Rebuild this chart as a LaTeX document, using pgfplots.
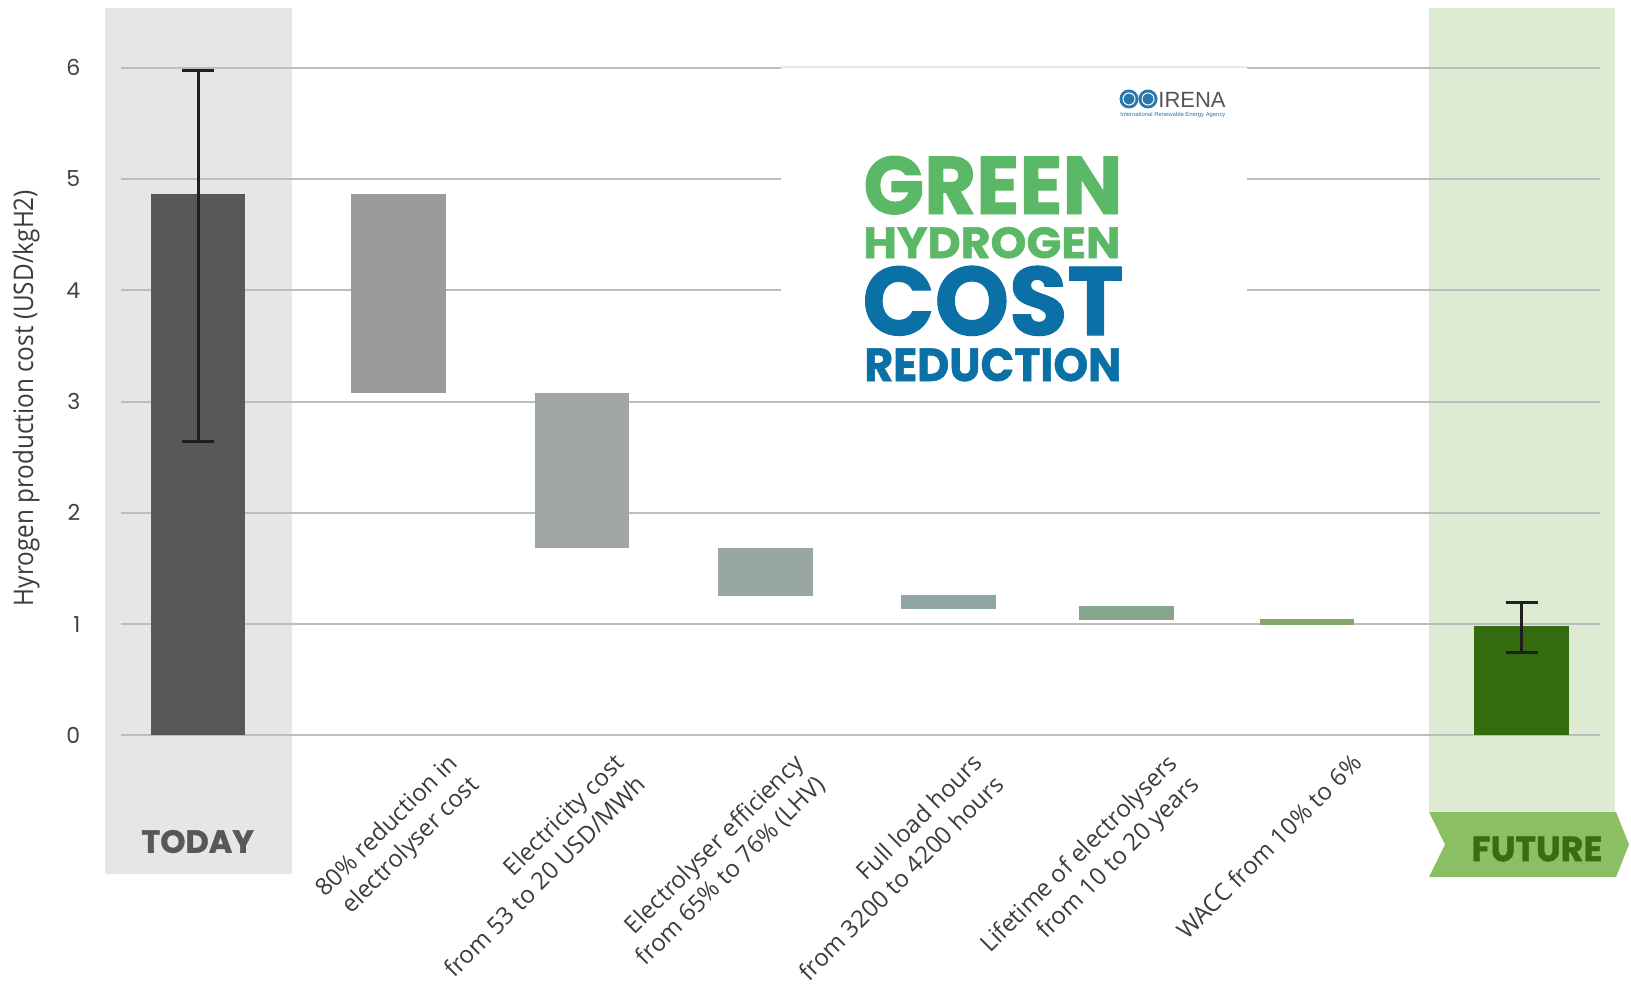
\documentclass[border=0pt]{standalone}
\usepackage{graphicx}
\usepackage{pgfplots}
\pgfplotsset{compat=1.18}
\usepackage{fontspec}
\setmainfont{Open Sans}
\newfontfamily\pop{Poppins}
\newfontfamily\popheavy{Poppins}[UprightFeatures={FakeBold=1.2}, BoldFeatures={FakeBold=1.2}]
\newfontfamily\cond{Open Sans}[FakeStretch=0.9]
\newfontfamily\lib{Liberation Sans}
\definecolor{gridc}{HTML}{BDBDBD}
\definecolor{todayband}{HTML}{E6E6E6}
\definecolor{futband}{HTML}{DCEBD1}
\definecolor{banner}{HTML}{8BBF63}
\definecolor{futtext}{HTML}{3D6B14}
\definecolor{todaytext}{HTML}{58585A}
\definecolor{todaybar}{HTML}{58585A}
\definecolor{cb2}{HTML}{9B9B9C}
\definecolor{cb3}{HTML}{A0A6A5}
\definecolor{cb4}{HTML}{98A7A3}
\definecolor{cb5}{HTML}{8EA6A6}
\definecolor{cb6}{HTML}{87A58A}
\definecolor{cb7}{HTML}{85A66A}
\definecolor{futbar}{HTML}{346B0E}
\definecolor{errc}{HTML}{1F1F1F}
\definecolor{tickc}{HTML}{3F3F4A}
\definecolor{labc}{HTML}{3C3C3C}
\definecolor{tgreen}{HTML}{5BB866}
\definecolor{tblue}{HTML}{0A70A6}
\definecolor{irenablue}{HTML}{2A77AD}
\definecolor{irenagray}{HTML}{555555}
\begin{document}
\begin{tikzpicture}
\useasboundingbox (0,0) rectangle (815.5pt,-492pt);
\begin{scope}[x=0.5pt,y=-0.5pt]
\fill[todayband] (105,8.3) rectangle (291.7,874);
\fill[futband] (1429,8.3) rectangle (1615,812);
\fill[banner] (1429,812) -- (1616,812) -- (1629,844.5) -- (1616,877) -- (1429,877) -- (1445,844.5) -- cycle;
\end{scope}
\begin{axis}[
  at={(60.35pt,-367.7pt)}, anchor=south west,
  scale only axis, width=739.65pt, height=363.55pt,
  xmin=-0.409, xmax=7.414, ymin=0, ymax=6.533,
  clip=false,
  axis line style={draw=none},
  major tick style={draw=none},
  ymajorgrids, grid style={gridc, line width=1pt},
  ytick={0,1,2,3,4,5,6},
  /pgf/number format/assume math mode=true,
  yticklabel style={font=\pop\fontsize{11}{13}\selectfont, text=tickc, inner sep=0pt, xshift=-20pt},
  xtick={1.11,1.994,2.94,3.887,4.918,5.891},
  xticklabels={{80\% reduction in\\electrolyser cost},{Electricity cost\\from 53 to 20 USD/MWh},{Electrolyser efficiency\\from 65\% to 76\% (LHV)},{Full load hours\\from 3200 to 4200 hours},{Lifetime of electrolysers\\from 10 to 20 years},{WACC from 10\% to 6\%}},
  xticklabel style={xshift=19pt, yshift=-8pt, rotate=45, anchor=north east, align=right, inner sep=0pt, font=\fontsize{12}{15}\selectfont, text=labc},
  ylabel={Hyrogen production cost (USD/kgH2)},
  every axis y label/.style={at={(axis description cs:-0.064,0.464)}, rotate=90, anchor=center, font=\cond\fontsize{13.5}{15}\selectfont, text=labc},
]
% TODAY bar with range
\addplot[ybar, bar width=0.5, bar shift=0pt, fill=todaybar, draw=none,
  error bars/.cd, y dir=both, y explicit,
  error bar style={errc, line width=1.5pt},
  error mark options={errc, line width=1.5pt, mark size=8pt, rotate=90}]
  coordinates {(0,4.86) += (0,1.11) -= (0,2.215)};
% waterfall reductions (low, high)
\addplot[fill=cb2, draw=none] coordinates {(0.81,3.08) (1.31,3.08) (1.31,4.86) (0.81,4.86)} -- cycle;
\addplot[fill=cb3, draw=none] coordinates {(1.78,1.68) (2.28,1.68) (2.28,3.08) (1.78,3.08)} -- cycle;
\addplot[fill=cb4, draw=none] coordinates {(2.75,1.25) (3.25,1.25) (3.25,1.68) (2.75,1.68)} -- cycle;
\addplot[fill=cb5, draw=none] coordinates {(3.72,1.14) (4.22,1.14) (4.22,1.26) (3.72,1.26)} -- cycle;
\addplot[fill=cb6, draw=none] coordinates {(4.66,1.04) (5.16,1.04) (5.16,1.16) (4.66,1.16)} -- cycle;
\addplot[fill=cb7, draw=none] coordinates {(5.615,0.995) (6.115,0.995) (6.115,1.05) (5.615,1.05)} -- cycle;
% FUTURE bar with range
\addplot[ybar, bar width=0.5, bar shift=0pt, fill=futbar, draw=none,
  error bars/.cd, y dir=both, y explicit,
  error bar style={errc, line width=1.5pt},
  error mark options={errc, line width=1.5pt, mark size=8pt, rotate=90}]
  coordinates {(7,0.985) += (0,0.208) -= (0,0.238)};
\end{axis}
\begin{scope}[x=0.5pt,y=-0.5pt]
\fill[white] (781,65) rectangle (1247,399);
\draw[gray!18, line width=0.8pt] (781,67.3) -- (1247,67.3);
% IRENA logo
\fill[irenablue] (1129,99) circle (9.5);
\fill[irenablue] (1148,99) circle (9.5);
\draw[white, line width=0.5pt] (1129,99) circle (6);
\draw[white, line width=0.5pt] (1148,99) circle (6);
\node[anchor=base west, inner sep=0pt, text=irenagray] at (1158,108) {\lib\fontsize{11}{12}\selectfont IRENA};
\node[anchor=base west, inner sep=0pt, text=irenablue] at (1120,117) {\resizebox{52.5pt}{!}{\lib International Renewable Energy Agency}};
% title
\node[anchor=base west, inner sep=0pt, text=tgreen] at (863,214) {\resizebox{129.5pt}{29pt}{\popheavy\bfseries GREEN}};
\node[anchor=base west, inner sep=0pt, text=tgreen] at (863,258) {\resizebox{128.5pt}{15.5pt}{\popheavy\bfseries HYDROGEN}};
\node[anchor=base west, inner sep=0pt, text=tblue] at (862,335) {\resizebox{130.5pt}{34.5pt}{\popheavy\bfseries COST}};
\node[anchor=base west, inner sep=0pt, text=tblue] at (864,381) {\resizebox{128.5pt}{16.5pt}{\popheavy\bfseries REDUCTION}};
% band captions
\node[text=todaytext, inner sep=0pt] at (197.6,841.5) {\popheavy\bfseries\fontsize{16}{18}\selectfont TODAY};
\node[text=futtext, inner sep=0pt] at (1537,849) {\popheavy\bfseries\fontsize{17.5}{19}\selectfont FUTURE};
\end{scope}
\end{tikzpicture}
\end{document}
